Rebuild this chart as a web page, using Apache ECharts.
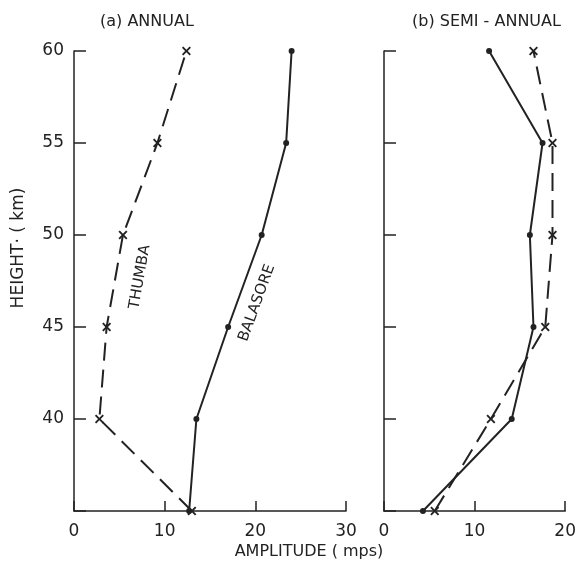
<!DOCTYPE html>
<html>
<head>
<meta charset="utf-8">
<script src="https://cdn.jsdelivr.net/npm/echarts@6/dist/echarts.min.js"></script>
<style>
  html, body { margin: 0; padding: 0; background: #fff; }
  #main { width: 579px; height: 570px; }
</style>
</head>
<body>
<div id="main"></div>
<script>
// heights (km) shared by all profiles
var heights = [35, 40, 45, 50, 55, 60];
// (a) annual amplitude, mps
var annualThumba = [13.0, 2.8, 3.6, 5.4, 9.2, 12.4];
var annualBalasore = [12.7, 13.5, 17.0, 20.7, 23.4, 24.0];
// (b) semi-annual amplitude, mps
var semiDots = [4.3, 14.1, 16.5, 16.1, 17.5, 11.6];
var semiCross = [5.6, 11.8, 17.8, 18.6, 18.6, 16.5];

var ink = '#222';
var font = '"DejaVu Sans", sans-serif';
var cross = 'path://M0,1.5L1.5,0L5,3.5L8.5,0L10,1.5L6.5,5L10,8.5L8.5,10L5,6.5L1.5,10L0,8.5L3.5,5Z';

function pairs(xs) {
  return xs.map(function (v, i) { return [v, heights[i]]; });
}

function xAxis(idx, max) {
  return {
    type: 'value', gridIndex: idx, min: 0, max: max, interval: 10,
    axisLine: { lineStyle: { color: ink, width: 1.5 } },
    axisTick: { inside: true, length: 10, lineStyle: { color: ink, width: 1.5 } },
    splitLine: { show: false },
    axisLabel: { color: ink, fontSize: 17, fontFamily: font, margin: 12 }
  };
}

function yAxis(idx, labels) {
  return {
    type: 'value', gridIndex: idx, min: 35, max: 60, interval: 5,
    axisLine: { lineStyle: { color: ink, width: 1.5 } },
    axisTick: { inside: true, length: 12, lineStyle: { color: ink, width: 1.5 } },
    splitLine: { show: false },
    axisLabel: {
      show: labels, color: ink, fontSize: 17, fontFamily: font, margin: 10,
      formatter: function (v) { return v === 35 ? '' : v; }
    }
  };
}

var chart = echarts.init(document.getElementById('main'));
chart.setOption({
  backgroundColor: '#fff',
  animation: false,
  grid: [
    { left: 74, top: 51, width: 272, height: 460 },
    { left: 384, top: 51, width: 182, height: 460 }
  ],
  xAxis: [xAxis(0, 30), xAxis(1, 20)],
  yAxis: [yAxis(0, true), yAxis(1, false)],
  series: [
    {
      name: 'THUMBA', type: 'line', xAxisIndex: 0, yAxisIndex: 0,
      data: pairs(annualThumba), symbol: cross, symbolSize: 9,
      itemStyle: { color: ink },
      lineStyle: { color: ink, width: 2, type: [18, 9] }
    },
    {
      name: 'BALASORE', type: 'line', xAxisIndex: 0, yAxisIndex: 0,
      data: pairs(annualBalasore), symbol: 'circle', symbolSize: 6,
      itemStyle: { color: ink },
      lineStyle: { color: ink, width: 2 }
    },
    {
      name: 'semi dots', type: 'line', xAxisIndex: 1, yAxisIndex: 1,
      data: pairs(semiDots), symbol: 'circle', symbolSize: 6,
      itemStyle: { color: ink },
      lineStyle: { color: ink, width: 2 }
    },
    {
      name: 'semi cross', type: 'line', xAxisIndex: 1, yAxisIndex: 1,
      data: pairs(semiCross), symbol: cross, symbolSize: 9,
      itemStyle: { color: ink },
      lineStyle: { color: ink, width: 2, type: [18, 9] }
    }
  ],
  graphic: [
    { type: 'text', left: 100, top: 14, style: { text: '(a) ANNUAL', fill: ink, font: '16px ' + font } },
    { type: 'text', left: 412, top: 14, style: { text: '(b) SEMI - ANNUAL', fill: ink, font: '16px ' + font } },
    {
      type: 'text', x: 19, y: 248, rotation: Math.PI / 2,
      style: { text: 'HEIGHT· ( km)', fill: ink, font: '17px ' + font, align: 'center', verticalAlign: 'middle' }
    },
    {
      type: 'text', x: 309, y: 552,
      style: { text: 'AMPLITUDE ( mps)', fill: ink, font: '16px ' + font, align: 'center', verticalAlign: 'middle' }
    },
    {
      type: 'text', x: 140, y: 277, rotation: 80 * Math.PI / 180,
      style: { text: 'THUMBA', fill: ink, font: '15px ' + font, align: 'center', verticalAlign: 'middle' }
    },
    {
      type: 'text', x: 257, y: 303, rotation: 70 * Math.PI / 180,
      style: { text: 'BALASORE', fill: ink, font: '15px ' + font, align: 'center', verticalAlign: 'middle' }
    }
  ]
});
</script>
</body>
</html>
